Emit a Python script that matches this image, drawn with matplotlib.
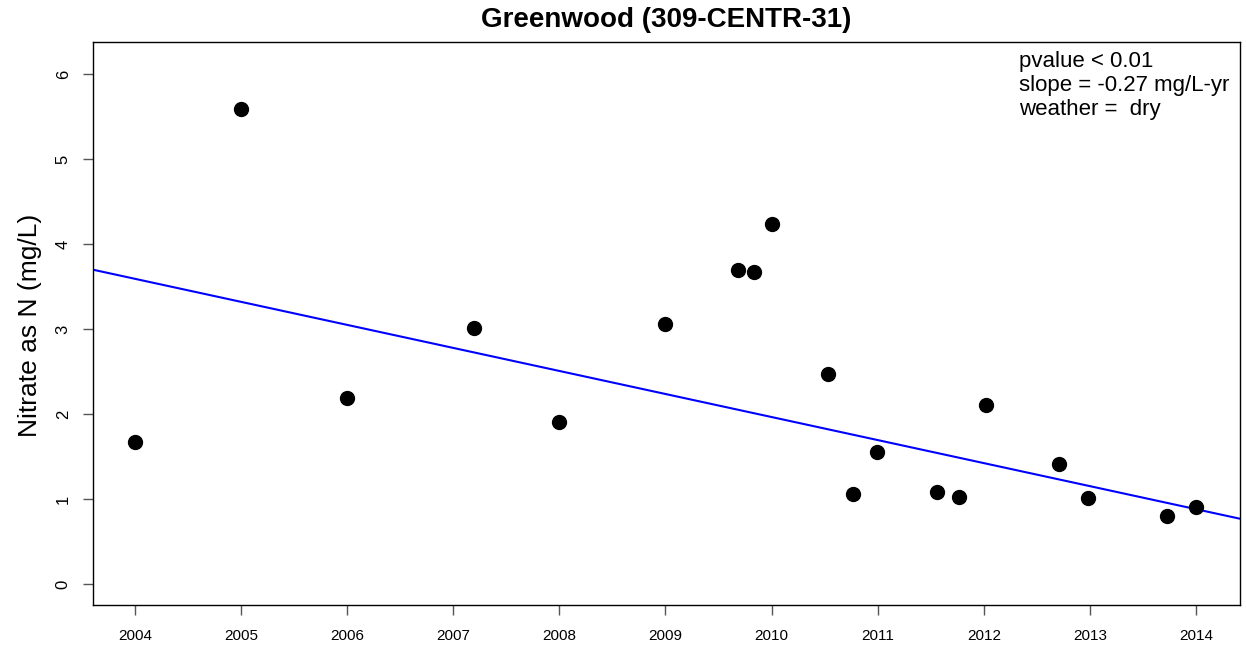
import numpy as np
import matplotlib
matplotlib.use('Agg')
import matplotlib.pyplot as plt

plt.rcParams['font.family'] = ['Liberation Sans', 'DejaVu Sans']

# sample dates (decimal year) and nitrate values
years = [2004.00, 2005.00, 2006.00, 2007.20, 2008.00, 2009.00, 2009.68, 2009.83,
         2010.00, 2010.53, 2010.77, 2010.99, 2011.56, 2011.77, 2012.02, 2012.71,
         2012.98, 2013.73, 2014.00]
nitrate = [1.67, 5.59, 2.19, 3.01, 1.91, 3.06, 3.69, 3.67,
           4.24, 2.47, 1.06, 1.55, 1.08, 1.02, 2.11, 1.41,
           1.01, 0.80, 0.91]

# trend line (value at 2004, slope per year)
trend_at_2004 = 3.59
trend_slope = -0.271

xticks = list(range(2004, 2015))
yticks = [0, 1, 2, 3, 4, 5, 6]
notes = ['pvalue < 0.01', 'slope = -0.27 mg/L-yr', 'weather =  dry']

fig = plt.figure(figsize=(12.46, 6.48), dpi=100)
ax = fig.add_axes([0.0746, 0.0664, 0.9206, 0.8688])

ax.scatter(years, nitrate, s=100, color='black', zorder=3)

xlim = (2003.604, 2014.415)
xx = np.array(xlim)
ax.plot(xx, trend_at_2004 + trend_slope * (xx - 2004), color='blue', lw=1.5, zorder=2)

ax.set_xlim(*xlim)
ax.set_ylim(-0.247, 6.376)
ax.set_xticks(xticks)
ax.set_xticklabels([str(t) for t in xticks], fontsize=11)
ax.set_yticks(yticks)
ax.set_yticklabels([str(t) for t in yticks], fontsize=12, rotation=90, va='center')
ax.tick_params(axis='both', direction='out', length=7, width=1, color='#555555')
ax.tick_params(axis='x', pad=10)
ax.tick_params(axis='y', pad=9)

for s in ax.spines.values():
    s.set_linewidth(1)
    s.set_color('black')

fig.text(30 / 1246, 0.4985, 'Nitrate as N (mg/L)', rotation=90, fontsize=19,
         ha='center', va='center')
fig.text(0.535, 1 - 20 / 648, 'Greenwood (309-CENTR-31)', fontsize=20,
         fontweight='bold', ha='center', va='center')

for i, line in enumerate(notes):
    ax.text(0.807, 0.966 - i * 0.0426, line, transform=ax.transAxes,
            fontsize=16, va='center', ha='left')

fig.savefig('out.png', dpi=100)
